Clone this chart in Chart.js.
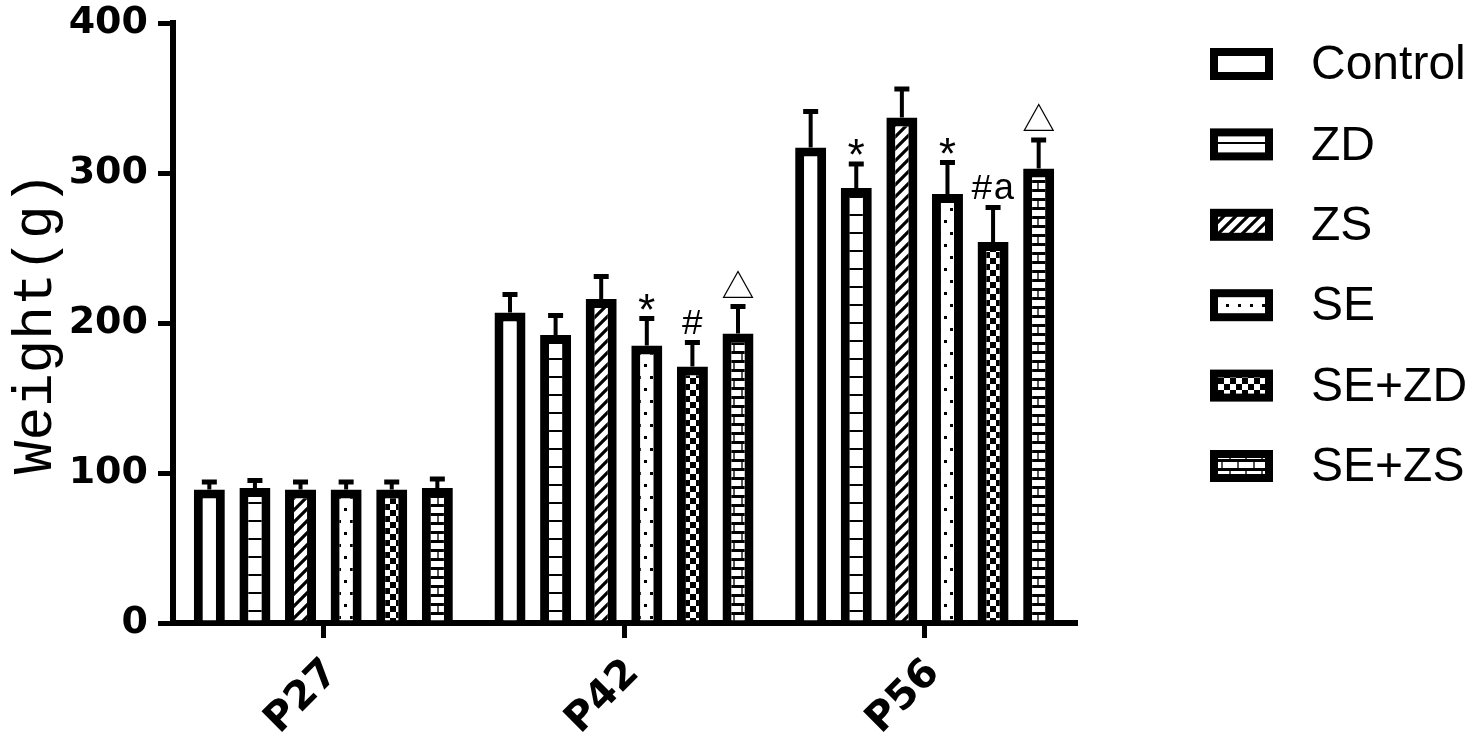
<!DOCTYPE html>
<html>
<head>
<meta charset="utf-8">
<script src="https://cdn.jsdelivr.net/npm/chart.js@4.4.1/dist/chart.umd.min.js"></script>
<style>
  html, body { margin: 0; padding: 0; background: #fff; }
  #wrap { width: 1480px; height: 744px; position: relative; }
</style>
</head>
<body>
<div id="wrap"><canvas id="weightChart"></canvas></div>
<script>
// Data
const categories = ['P27', 'P42', 'P56'];
const groupNames = ['Control', 'ZD', 'ZS', 'SE', 'SE+ZD', 'SE+ZS'];

const controlVals = [89, 207, 317];
const zdVals      = [90, 192, 290];
const zsVals      = [89, 216, 337];
const seVals      = [89, 185, 286];
const seZdVals    = [89, 171, 254];
const seZsVals    = [90, 193, 303];

const controlErr = [5, 12, 24];
const zdErr      = [5, 13, 16];
const zsErr      = [5, 15, 19];
const seErr      = [5, 18, 21];
const seZdErr    = [5, 16, 23];
const seZsErr    = [6, 18, 19];

// significance marks above each bar
const controlMarks = ['', '', ''];
const zdMarks      = ['', '', '*'];
const zsMarks      = ['', '', ''];
const seMarks      = ['', '*', '*'];
const seZdMarks    = ['', '#', '#a'];
const seZsMarks    = ['', '\u25B3', '\u25B3'];

const yTicks = [0, 100, 200, 300, 400];

// Fill patterns (black & white hatching like the original)
const makePattern = (kind) => {
    const c = document.createElement('canvas');
    const g = c.getContext('2d');
    if (kind === 'hlines') {
        c.width = 8; c.height = 18;
        g.fillStyle = '#fff'; g.fillRect(0, 0, 8, 18);
        g.fillStyle = '#000'; g.fillRect(0, 16, 8, 2);
    } else if (kind === 'diag') {
        c.width = 12; c.height = 12;
        g.fillStyle = '#fff'; g.fillRect(0, 0, 12, 12);
        g.strokeStyle = '#000'; g.lineWidth = 3.2;
        g.beginPath();
        g.moveTo(-3, 15); g.lineTo(15, -3);
        g.moveTo(-9, 9); g.lineTo(9, -9);
        g.moveTo(3, 21); g.lineTo(21, 3);
        g.stroke();
    } else if (kind === 'dots') {
        c.width = 12; c.height = 24;
        g.fillStyle = '#fff'; g.fillRect(0, 0, 12, 24);
        g.fillStyle = '#000';
        g.fillRect(8, 4, 3, 3);
        g.fillRect(2, 16, 3, 3);
    } else if (kind === 'checker') {
        c.width = 12; c.height = 12;
        g.fillStyle = '#fff'; g.fillRect(0, 0, 12, 12);
        g.fillStyle = '#000';
        g.fillRect(0, 0, 6, 6);
        g.fillRect(6, 6, 6, 6);
    } else if (kind === 'bricks') {
        c.width = 16; c.height = 18;
        g.fillStyle = '#fff'; g.fillRect(0, 0, 16, 18);
        g.fillStyle = '#000';
        g.fillRect(0, 0, 16, 3);
        g.fillRect(0, 9, 16, 3);
        g.fillStyle = '#555';
        g.fillRect(13, 3, 2, 6);
        g.fillRect(5, 12, 2, 6);
    } else {
        return '#ffffff';
    }
    return g.createPattern(c, 'repeat');
};

const seriesVals  = [controlVals, zdVals, zsVals, seVals, seZdVals, seZsVals];
const seriesErr   = [controlErr, zdErr, zsErr, seErr, seZdErr, seZsErr];
const seriesMarks = [controlMarks, zdMarks, zsMarks, seMarks, seZdMarks, seZsMarks];
const seriesFill  = ['none', 'hlines', 'diag', 'dots', 'checker', 'bricks'];

const datasets = groupNames.map((name, i) => ({
    label: name,
    data: seriesVals[i],
    errors: seriesErr[i],
    marks: seriesMarks[i],
    backgroundColor: makePattern(seriesFill[i]),
    borderColor: '#000',
    borderWidth: 9,
    borderSkipped: 'start',
    categoryPercentage: 0.91,
    barPercentage: 0.68
}));

// font per significance mark
const markFont = (mark) => {
    if (mark === '\u25B3') return '33px "Noto Sans CJK SC", "DejaVu Sans"';
    if (mark === '*') return '44px "Liberation Mono", "DejaVu Sans Mono"';
    return '37px "Liberation Mono", "DejaVu Sans Mono"';
};

// Upper error bars + significance marks
const errorBars = {
    id: 'errorBars',
    afterDatasetsDraw(chart) {
        const ctx = chart.ctx;
        const yScale = chart.scales.y;
        ctx.save();
        chart.data.datasets.forEach((ds, i) => {
            const meta = chart.getDatasetMeta(i);
            meta.data.forEach((bar, j) => {
                const top = yScale.getPixelForValue(ds.data[j] + ds.errors[j]);
                ctx.fillStyle = '#000';
                ctx.fillRect(bar.x - 2, top, 4, bar.y - top);
                ctx.fillRect(bar.x - 7.5, top - 2.5, 15, 5);

                const mark = ds.marks[j];
                if (mark) {
                    ctx.font = markFont(mark);
                    ctx.textAlign = 'center';
                    ctx.textBaseline = 'alphabetic';
                    const m = ctx.measureText(mark);
                    ctx.fillText(mark, bar.x, top - 9 - m.actualBoundingBoxDescent);
                }
            });
        });
        ctx.restore();
    }
};

// Legend drawn to the right with the same fills
const sideLegend = {
    id: 'sideLegend',
    afterDraw(chart) {
        const ctx = chart.ctx;
        ctx.save();
        chart.data.datasets.forEach((ds, i) => {
            const cy = 64 + i * 80.4;
            const bx = 1210, bw = 63, bh = 32;
            ctx.fillStyle = '#000';
            ctx.fillRect(bx, cy - bh / 2, bw, bh);
            ctx.fillStyle = ds.backgroundColor;
            ctx.fillRect(bx + 8, cy - bh / 2 + 8, bw - 16, bh - 16);
            ctx.fillStyle = '#000';
            ctx.font = '48px "Liberation Sans", Arial, sans-serif';
            ctx.textAlign = 'left';
            ctx.textBaseline = 'middle';
            ctx.fillText(ds.label, 1311, cy + 2);
        });
        ctx.restore();
    }
};

const ctx = document.getElementById('weightChart');
new Chart(ctx, {
    type: 'bar',
    data: { labels: categories, datasets: datasets },
    options: {
        responsive: true,
        maintainAspectRatio: false,
        animation: false,
        layout: { padding: { top: 23, right: 405, bottom: 0, left: 0 } },
        plugins: {
            legend: { display: false },
            tooltip: { enabled: false }
        },
        scales: {
            x: {
                z: 1,
                offset: true,
                grid: {
                    drawOnChartArea: false,
                    offset: false,
                    tickLength: 15,
                    lineWidth: 5,
                    color: '#000'
                },
                border: { display: true, width: 6, color: '#000' },
                ticks: {
                    color: '#000',
                    font: { family: '"DejaVu Sans"', weight: 'bold', size: 40 },
                    minRotation: 45,
                    maxRotation: 45,
                    autoSkip: false,
                    labelOffset: 9,
                    padding: 12
                },
                afterFit(scale) { scale.height = 121; }
            },
            y: {
                z: 1,
                min: 0,
                max: 400,
                afterBuildTicks(scale) { scale.ticks = yTicks.map(v => ({ value: v })); },
                grid: {
                    drawOnChartArea: false,
                    tickLength: 15,
                    lineWidth: 5,
                    color: '#000'
                },
                border: { display: true, width: 6, color: '#000' },
                ticks: {
                    color: '#000',
                    font: { family: '"DejaVu Sans"', weight: 'bold', size: 38 },
                    padding: 10
                },
                title: {
                    display: true,
                    text: 'Weight(g)',
                    color: '#000',
                    font: { family: '"Liberation Mono", monospace', size: 56 },
                    padding: { top: 3, bottom: 0 }
                },
                afterFit(scale) {
                    scale.width = 173;
                    scale.paddingTop = 0;
                    scale.paddingBottom = 0;
                }
            }
        }
    },
    plugins: [errorBars, sideLegend]
});
</script>
</body>
</html>
